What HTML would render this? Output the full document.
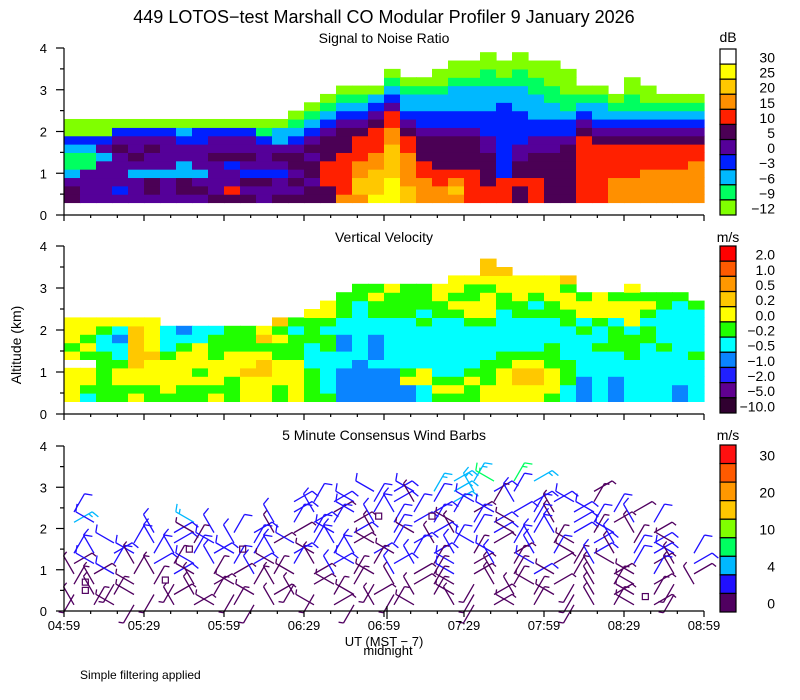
<!DOCTYPE html>
<html><head><meta charset="utf-8"><style>
html,body{margin:0;padding:0;background:#fff;}
svg{display:block;font-family:"Liberation Sans",sans-serif;}
</style></head><body>
<svg id="chart" width="800" height="700" viewBox="0 0 800 700">
<text x="384" y="23" font-size="18" text-anchor="middle">449 LOTOS−test Marshall CO Modular Profiler  9 January 2026</text>
<text x="384" y="43" font-size="14" text-anchor="middle">Signal to Noise Ratio</text>
<text x="384" y="242" font-size="14" text-anchor="middle">Vertical Velocity</text>
<text x="384" y="440" font-size="14" text-anchor="middle">5 Minute Consensus Wind Barbs</text>
<text x="728" y="42" font-size="14" text-anchor="middle">dB</text>
<text x="728" y="242" font-size="14" text-anchor="middle">m/s</text>
<text x="728" y="440" font-size="14" text-anchor="middle">m/s</text>
<text transform="translate(21,345) rotate(-90)" font-size="14" text-anchor="middle">Altitude (km)</text>
<text x="384" y="646" font-size="13" text-anchor="middle">UT  (MST − 7)</text>
<text x="388" y="655" font-size="13" text-anchor="middle">midnight</text>
<text x="80" y="679" font-size="12">Simple filtering applied</text>
<g id="layer"></g>
</svg>
<script>
// ---- data ----
const timeTicks = ["04:59","05:29","05:59","06:29","06:59","07:29","07:59","08:29","08:59"];
const altTicks = [0,1,2,3,4];
const snrLabels = ["30","25","20","15","10","5","0","−3","−6","−9","−12"];
const vvLabels = ["2.0","1.0","0.5","0.2","0.0","−0.2","−0.5","−1.0","−2.0","−5.0","−10.0"];
const windLabels = ["30","","20","","10","","4","","0"];
// SNR columns (6-min steps), chars bottom-up from 0.3 km in 0.2 km bins
const snrCols = ["ddpcggcbll","ppppggcbll","pppppcpbll","pbppppdpbl","pppcpdppbl","pddcppdpbl","pppcppppbl","pddccppbcl","pdpcpppbbl","dppppdppbl","drppbdppbl","dpdbpdppbl","ppdbpppbgl","dppbpdpccl","dpdpddpbcgl","ddpddpdpbcgl","ddrrrdddpbcgl","orrrrrdddpbcgl","oyyoorrrdpbcgl","Yyyyoorrrdpbcl","YYYyyyyoorrpbcgl","yyoooorrdpbccgl","ooorrdddpbbccgl","oorrddddpbbccgll","oyorddddpbbcccgll","rrrrddddpbbcccgll","rrddddppbbbcccggll","rrrbbbbbbbbbccgll","ddrddppbbbbcccggll","rrrdddppbbcccggll","ddddddppbbccgglll","dddddddpbbcgglll","rrrrrrrrdpbcgl","rrrrrrrdpbccgl","ooorrrrdpbcgl","ooorrrrdpbcggll","oooorrrdpbcgll","oooorrrdpbcgl","oooorrrdpbcgl","ooooorrdpbcgl"];
const vvCols = ["YYYY.YgYYY","cgYY.gYgYY","ggggggccgY","ggYYgccbcY","YgYYyyyyyY","ggYYYyYYYY","gYYYYgccc","ggYYYYgcb","ggYgYYYcc","YgYYYgggc","gggYYYggg","YYYyYYggg","YYYyyYgyY","ggYYYggYgy","YYYYYgggcg","ggggcccgggY","gcccccggcgYY","bbbbccbbccggg","bbbbbcccccccgg","bbbbcbbbccggYg","bbbbccccccgggY","bbYgccccccgggg","ccYYcccccgcggg","gYgcccccccggYY","gYgcccccccgYgYY","ggYgcccccgYYggY","YYgggccccgYYYgYyy","YYYYggcccccggYYy","YYyyYgccccggYYY","YYyyYgccccgcgYY","gYYYgggcccggYYY","ccgggccccggYYgy","bbbcccccgcYYg","ccccccgccgYYY","bbbcccgggcYYg","cccccgggcYYYgY","cccccccggcgYg","ccccccgccccgg","bbccccccccccg","cccccgcccccg"];
// Wind barbs: rows of heights (km), direction code (base-12 ×30°), speed class per 7.5-min column
const barbHeights = [3.15,2.9,2.65,2.4,2.15,1.9,1.65,1.4,1.15,0.9,0.65,0.4,0.15];
const barbDirs = ["...................21a12","...............a2a12b21...2","...........212a12b12a1b22a1","1..........2b2a1b1212a21b2a12","2a....a...b1212b121a12a1b212b1","....b2ab12b21a2b1a2b12a1b21ab2","..a1b21ab12a1b2a12b1a21b1a2b12a","1b2a1b12a1b2a1b2a12b1a2b1a2b12a1","2a1b21ab12a1b2a12b1a2b1a21ba12b2","b2a1b2a12b1a2b1ab21a2b12a1b2a1b2","1b7a17b2a1b72a17b21a7b1a27b1a27b","7b1a72b17a2b71a27b1a72b1a7b2a17","b1a7.b2a17b.a27b1a.b72a1.7b1a2."];
const barbSpeeds = ["...................22332","...............111222111...3","...........111111012101111011","1..........11011111101110111","21....2...11110111101101011011","....110111001110101011011101","..1111011101110011011011001101","11111111111101110111010110101111","01101011110101101101010100101001","00100100010001001001000100000100","00000000000000000000000000000000","00000000000000000000000000000000","00000000000000000000000000000000"];
const calmTimes = [8,8,38,47,67,118,138,218];
const calmHeights = [0.7,0.5,0.75,1.5,1.5,2.3,2.3,0.35];

// ---- styles ----
const snrColors = {A:'#ffffff',Y:'#ffff00',y:'#ffc800',o:'#ff9000',r:'#ff2000',d:'#4b0055',p:'#550099',b:'#0020ff',c:'#00b8ff',g:'#00ff60',l:'#80ff00'};
const snrBar = ['#ffffff','#ffff00','#ffc800','#ff9000','#ff2000','#4b0055','#550099','#0020ff','#00b8ff','#00ff60','#80ff00'];
const vvColors = {R:'#ff0000',O:'#ff5a00',o:'#ff9800',y:'#ffc800',Y:'#ffff00',g:'#20ff00',c:'#00ffff',b:'#0a84ff',B:'#2020ff',p:'#600090',k:'#300030'};
const vvBar = ['#ff0000','#ff5a00','#ff9800','#ffc800','#ffff00','#20ff00','#00ffff','#0a84ff','#2020ff','#600090','#300030'];
const windBar = ['#ff1010','#ff5a00','#ff9800','#ffc800','#80ff00','#00ff60','#00b8ff','#2010ff','#500060'];
const barbColors = ['#500060','#2010ff','#00b8ff','#00ff60'];

const NS='http://www.w3.org/2000/svg';
const layer=document.getElementById('layer');
function mk(tag,attrs,parent){const e=document.createElementNS(NS,tag);for(const k in attrs)e.setAttribute(k,attrs[k]);(parent||layer).appendChild(e);return e;}
const X0=64,X1=704;
function xs(min){return X0+min*(X1-X0)/240;}
const panels=[{top:48,bot:215},{top:246,bot:414},{top:446,bot:611}];
function ysF(p){return km=>p.bot-km*(p.bot-p.top)/4;}

// heatmaps
function heat(cols,colors,p,name){
  const ys=ysF(p);
  const g=mk('g',{});
  
  
  cols.forEach((s,i)=>{
    const xa=xs(i*6),xb=xs((i+1)*6);
    for(let k=0;k<s.length;k++){
      const c=s[k]; if(c==='.')continue;
      const ya=ys(0.3+0.2*(k+1)),yb=ys(0.3+0.2*k);
      const r=mk('rect',{x:xa,y:ya,width:xb-xa+0.6,height:yb-ya+0.6,fill:colors[c]},g);
      
      
    }
  });
}
heat(snrCols,snrColors,panels[0],'snr-heatmap');
heat(vvCols,vvColors,panels[1],'vv-heatmap');

// wind barbs
(function(){
  const p=panels[2],ys=ysF(p);
  const g=mk('g',{stroke:'#000','stroke-width':1.3,fill:'none'});
  
  
  barbHeights.forEach((h,r)=>{
    const ds=barbDirs[r],ss=barbSpeeds[r];
    for(let i=0;i<ds.length;i++){
      if(ds[i]==='.')continue;
      const d=parseInt(ds[i],12)*30*Math.PI/180;
      const sp=parseInt(ss[i]||'0');
      const x=xs(3.75+7.5*i),y=ys(h),L=21;
      const ex=x+L*Math.sin(d),ey=y-L*Math.cos(d);
      const col=barbColors[sp]||barbColors[0];
      let path=`M${x},${y}L${ex},${ey}`;
      const a=d+Math.PI/2.6,bl=sp>0?8:5;
      path+=`M${ex},${ey}L${ex+bl*Math.sin(a)},${ey-bl*Math.cos(a)}`;
      if(sp>1){const mx=x+(L-4)*Math.sin(d),my=y-(L-4)*Math.cos(d);path+=`M${mx},${my}L${mx+5*Math.sin(a)},${my-5*Math.cos(a)}`;}
      const e=mk('path',{d:path,stroke:col},g);
      
      
    }
  });
  calmTimes.forEach((t,i)=>{
    const e=mk('rect',{x:xs(t)-3,y:ys(calmHeights[i])-3,width:6,height:6,stroke:'#500060','stroke-width':1.2},g);
    
    
  });
})();

// axes
panels.forEach((p,pi)=>{
  const ys=ysF(p);
  const g=mk('g',{stroke:'#000','stroke-width':1.2});
  
  
  mk('line',{x1:X0,y1:p.top,x2:X0,y2:p.bot},g);
  mk('line',{x1:X0,y1:p.bot,x2:X1,y2:p.bot},g);
  for(let v=0;v<=4;v+=0.5){const y=ys(v);mk('line',{x1:X0-(v%1===0?8:4),y1:y,x2:X0,y2:y},g);}
  altTicks.forEach(v=>{
    const t=mk('text',{x:47,y:ys(v)+5,'font-size':13,'text-anchor':'end',stroke:'none',fill:'#000'});
    t.textContent=v;
    
    
  });
  for(let m=0;m<=240;m+=10){const x=xs(m);const maj=m%30===0;mk('line',{x1:x,y1:p.bot,x2:x,y2:p.bot+(maj?6:3)},g);}
  if(pi===2){
    mk('line',{x1:xs(120)+3,y1:p.bot-5,x2:xs(120)+3,y2:p.bot+8},g);
    timeTicks.forEach((lab,i)=>{
      const t=mk('text',{x:xs(i*30),y:p.bot+19,'font-size':13,'text-anchor':'middle',stroke:'none',fill:'#000'});
      t.textContent=lab;
      
      
    });
  }
});

// colorbars
function cbar(colors,labels,p,name){
  const g=mk('g',{});
  
  
  const n=colors.length,h=(p.bot-p.top)/n;
  colors.forEach((c,i)=>{
    const r=mk('rect',{x:720,y:p.top+i*h,width:16,height:h,fill:c,stroke:'#000','stroke-width':1.2},g);
    
    
  });
  labels.forEach((l,i)=>{
    if(!l)return;
    const t=mk('text',{x:775,y:p.top+(i+0.5)*h+6,'font-size':14,'text-anchor':'end'},g);
    t.textContent=l;
    
    
  });
}
cbar(snrBar,snrLabels,{top:49,bot:215},'snr-colorbar');
cbar(vvBar,vvLabels,{top:246,bot:413},'vv-colorbar');
cbar(windBar,windLabels,{top:445,bot:612},'wind-colorbar');
</script>
</body></html>
